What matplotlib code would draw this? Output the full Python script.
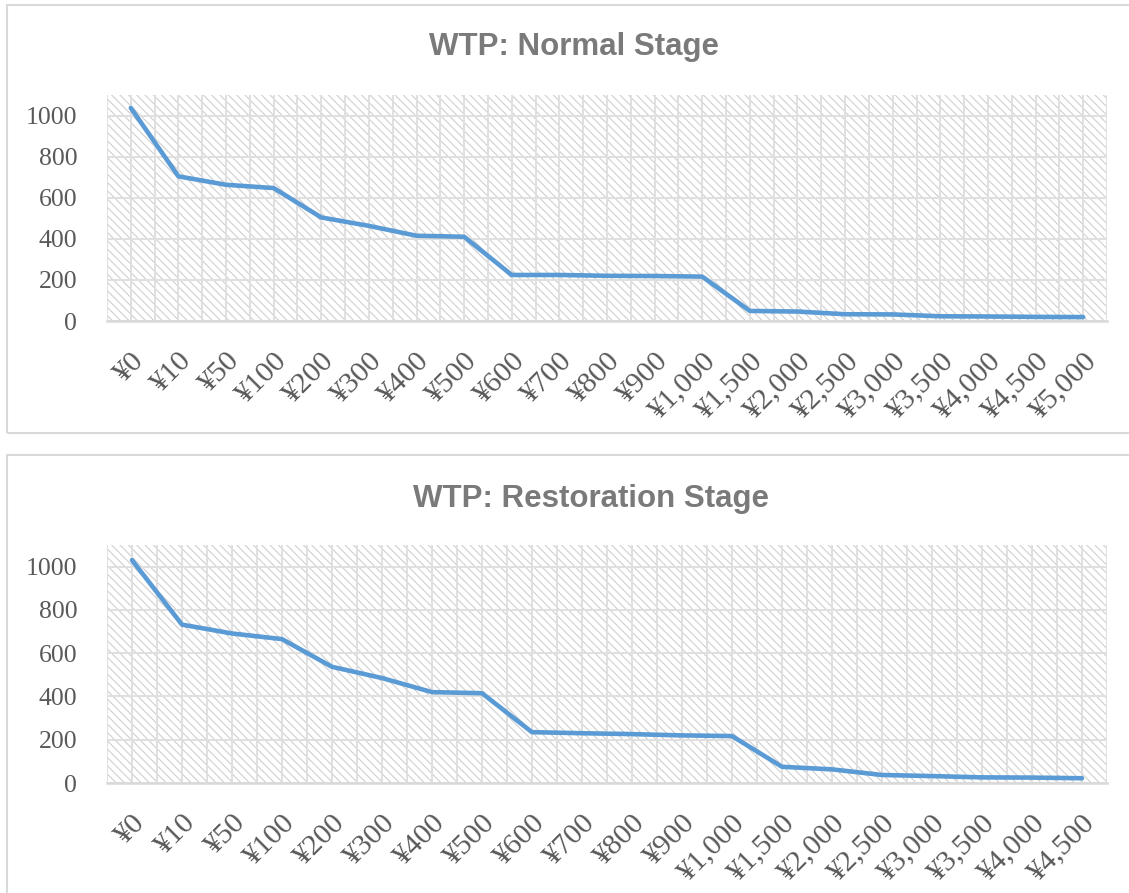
import matplotlib
matplotlib.use('Agg')
import numpy as np
import matplotlib.pyplot as plt
from matplotlib.patches import Rectangle

# WTP curves
normal_labels = ['¥0', '¥10', '¥50', '¥100', '¥200', '¥300', '¥400', '¥500', '¥600', '¥700',
                 '¥800', '¥900', '¥1,000', '¥1,500', '¥2,000', '¥2,500', '¥3,000', '¥3,500',
                 '¥4,000', '¥4,500', '¥5,000']
normal_vals = [1037, 704, 663, 647, 504, 463, 415, 410, 224, 224,
               220, 219, 216, 49, 46, 33, 32, 23, 22, 20, 19]

restor_labels = ['¥0', '¥10', '¥50', '¥100', '¥200', '¥300', '¥400', '¥500', '¥600', '¥700',
                 '¥800', '¥900', '¥1,000', '¥1,500', '¥2,000', '¥2,500', '¥3,000', '¥3,500',
                 '¥4,000', '¥4,500']
restor_vals = [1030, 732, 691, 665, 537, 485, 420, 415, 235, 230,
               226, 220, 217, 75, 63, 37, 32, 26, 25, 22]

W, H = 1129, 893
plt.rcParams['hatch.linewidth'] = 0.8
fig = plt.figure(figsize=(W / 100, H / 100), dpi=100)

line_col = '#5B9BD5'
txt_col = '#595959'
grid_col = '#e0e0e0'

# chart boxes (pixel coords: x0, top, x1, bottom)
for (x0, top, x1, bot) in [(7, 5, 1140, 433), (7, 455, 1140, 905)]:
    fig.patches.append(Rectangle((x0 / W, 1 - bot / H), (x1 - x0) / W, (bot - top) / H,
                                 transform=fig.transFigure, facecolor='none',
                                 edgecolor='#d9d9d9', lw=1.5))


def draw(rect, labels, vals, title, title_xy):
    left, top, right, bot = rect
    ax = fig.add_axes([left / W, 1 - bot / H, (right - left) / W, (bot - top) / H])
    n = len(labels)
    x = np.arange(n)
    # hatched plot area
    ax.add_patch(Rectangle((0, 0), 1, 1, transform=ax.transAxes, facecolor='white',
                           edgecolor='#cfcfcf', hatch='\\\\\\\\', lw=0, zorder=0))
    ax.plot(x, vals, color=line_col, lw=3.3, solid_capstyle='round',
            solid_joinstyle='round', zorder=3)
    ax.set_xlim(-0.5, n - 0.5)
    ax.set_ylim(0, 1100)
    ax.set_yticks(range(0, 1001, 200))
    ax.set_xticks(x)
    ax.set_xticks(np.arange(n + 1) - 0.5, minor=True)
    ax.set_xticklabels(labels, rotation=45, ha='right', va='top',
                       rotation_mode='anchor', family='Liberation Serif',
                       fontsize=21.5, color=txt_col)
    for lab in ax.get_yticklabels():
        lab.set_family('Liberation Serif')
        lab.set_fontsize(18.5)
        lab.set_color(txt_col)
    ax.tick_params(axis='both', which='both', length=0)
    ax.tick_params(axis='y', pad=21.5)
    ax.tick_params(axis='x', pad=19)
    ax.grid(True, which='both', axis='x', color=grid_col, lw=1.4, zorder=1)
    ax.grid(True, which='major', axis='y', color=grid_col, lw=1.4, zorder=1)
    ax.set_axisbelow(True)
    for s in ['top', 'left', 'right']:
        ax.spines[s].set_visible(False)
    ax.spines['bottom'].set_color('#d9d9d9')
    ax.spines['bottom'].set_linewidth(1.8)
    fig.text(title_xy[0] / W, 1 - title_xy[1] / H, title, ha='center', va='center',
             family='Liberation Sans', fontweight='bold', fontsize=22.5, color='#7a7a7a')
    return ax


draw((107, 95, 1107, 321), normal_labels, normal_vals, 'WTP: Normal Stage', (574, 47))
draw((107, 545, 1107, 783), restor_labels, restor_vals, 'WTP: Restoration Stage', (591, 499))

fig.savefig('out.png', dpi=100)
